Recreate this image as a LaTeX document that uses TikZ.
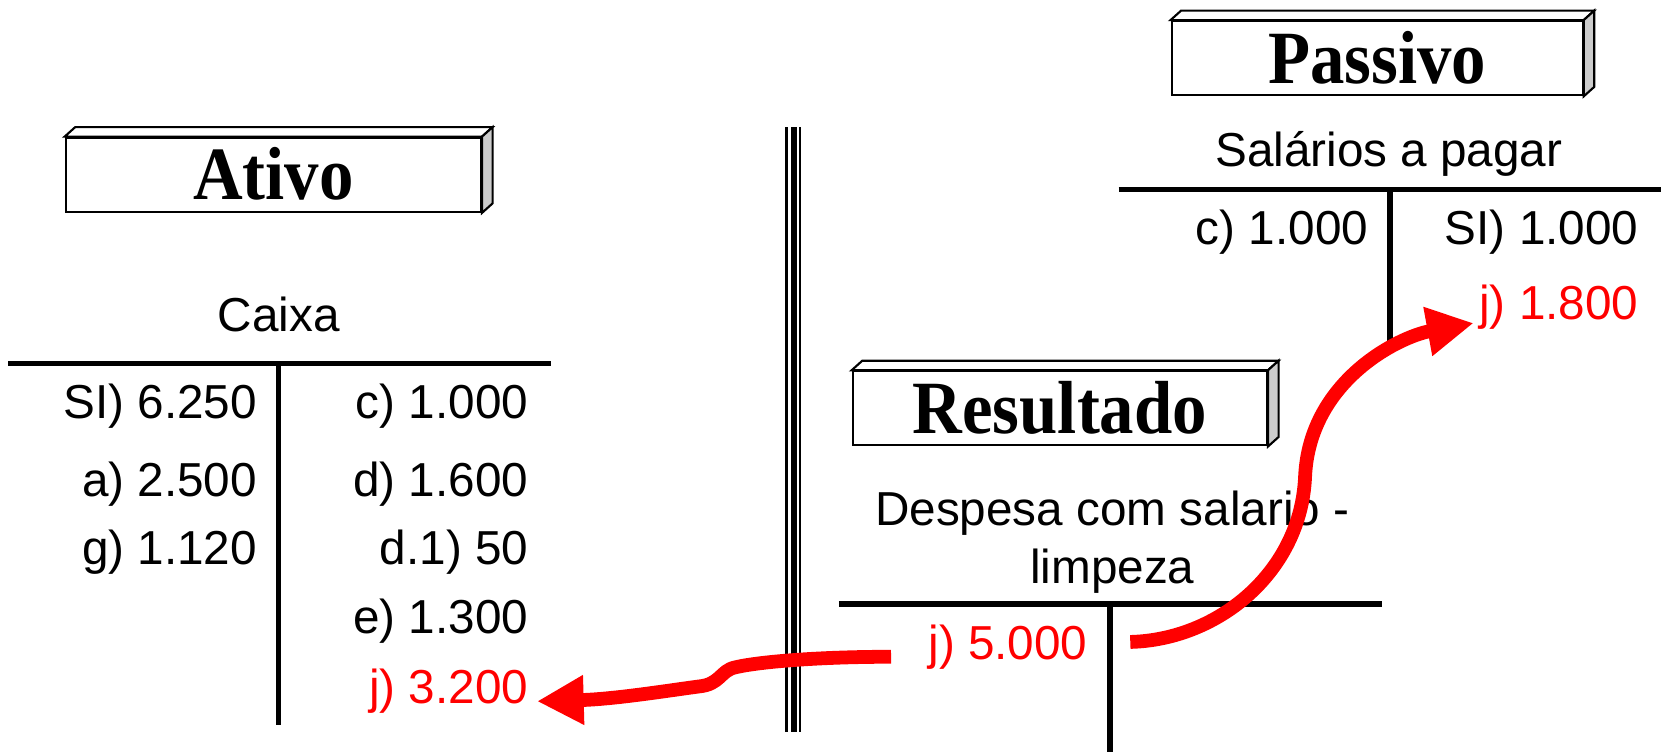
\documentclass[tikz,border=0pt]{standalone}
\usepackage{fontspec}
\setmainfont{Liberation Sans}
\newfontfamily\titlefont[FakeStretch=0.915]{Liberation Serif}
\usetikzlibrary{arrows.meta}
\definecolor{sidegrey}{RGB}{204,204,204}
\newcommand{\acctfont}{\fontsize{22.5}{27.5}\selectfont}
\tikzset{
  titlebox/.style={draw, line width=1pt, fill=white, inner sep=0pt,
    minimum width=#1, minimum height=35pt, text height=23.5pt, text depth=0pt,
    font=\titlefont\bfseries\fontsize{35.5}{40}\selectfont},
  head/.style={anchor=base, inner sep=0pt, font=\acctfont, align=center},
  entry/.style={anchor=base east, inner sep=0pt, font=\acctfont},
  tline/.style={line width=2.6pt},
  flow/.style={red, line width=6.5pt, -{Triangle[length=22pt,width=22pt]}},
}
% top and side faces of a title box
\newcommand{\bevel}[1]{%
  \filldraw[line width=1pt, fill=white] (#1.north west) -- ++(10,-9)
    -- ([shift={(10,-9)}]#1.north east) -- (#1.north east) -- cycle;
  \filldraw[line width=1pt, fill=sidegrey] (#1.north east) -- ++(10,-9)
    -- ([shift={(10,-9)}]#1.south east) -- (#1.south east) -- cycle;
}
\begin{document}
\begin{tikzpicture}[x=0.5pt,y=-0.5pt]
\useasboundingbox (0,0) rectangle (1568,710);

% Title boxes
\node[titlebox=196pt] (ativo) at (258,165) {Ativo};
\bevel{ativo}
\node[titlebox=194pt] (passivo) at (1300,55) {Passivo};
\bevel{passivo}
\node[titlebox=195.5pt] (resultado) at (1000.5,385.5) {Resultado};
\bevel{resultado}

% Divider
\draw[line width=1.5pt] (742.7,120) -- (742.7,691);
\draw[line width=2.8pt] (749.3,120) -- (749.3,691);
\draw[line width=1.3pt] (755.3,120) -- (755.3,691);

% Caixa
\node[head] (caixa) at (263,313) {Caixa};
\draw[tline] (8,343) -- (520,343);
\draw[tline] (263,343) -- (263,684);
\node[entry] (csi) at (243,395) {SI) 6.250};
\node[entry] (ca) at (243,469) {a) 2.500};
\node[entry] (cg) at (243,533) {g) 1.120};
\node[entry] (cc) at (499,395) {c) 1.000};
\node[entry] (cd) at (499,469) {d) 1.600};
\node[entry] (cdum) at (499,533) {d.1) 50};
\node[entry] (ce) at (499,598) {e) 1.300};
\node[entry, red] (jtres) at (499,664) {j) 3.200};

% Salarios a pagar
\node[head] (salarios) at (1311,157) {Salários a pagar};
\draw[tline] (1056,179) -- (1568,179);
\draw[tline] (1312,179) -- (1312,322);
\node[entry] (sc) at (1292,231) {c) 1.000};
\node[entry] (ssi) at (1547,231) {SI) 1.000};
\node[entry, red] (joito) at (1547,302) {j) 1.800};

% Despesa com salario
\node[head] (despesa) at (1050,551) {Despesa com salario -\\limpeza};
\draw[tline] (792,570) -- (1305,570);
\draw[tline] (1048,570) -- (1048,710);
\node[entry, red] (jcinco) at (1027,623) {j) 5.000};

% Arrows
\draw[flow] ([shift={(-35,-3)}]jcinco.base west) .. controls (770,620) and (715,625) .. (694,630)
  .. controls (680,633) and (680,646) .. (660,648)
  .. controls (630,652) and (580,660) .. ([shift={(8,-2)}]jtres.base east);
\draw[flow] ([shift={(40,-17)}]jcinco.base east) .. controls (1150,604) and (1228,540) .. (1232,450)
  .. controls (1236,360) and (1320,318) .. ([shift={(-5,3)}]joito.base west);
\end{tikzpicture}
\end{document}
